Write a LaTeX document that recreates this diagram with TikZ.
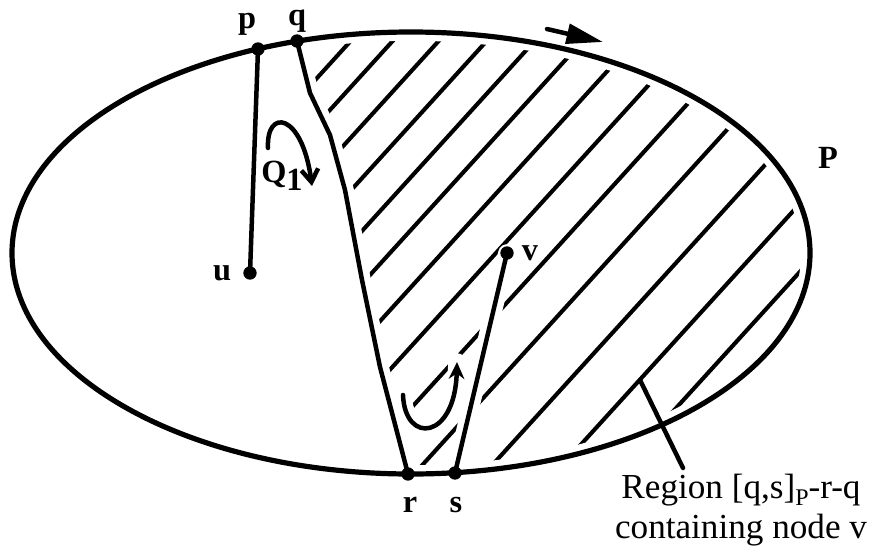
\documentclass[tikz,border=0pt]{standalone}
\usepackage{fontspec}
\setmainfont{Liberation Serif}
\usetikzlibrary{arrows.meta}

\begin{document}
\begin{tikzpicture}[x=0.025cm,y=-0.025cm,
  line cap=round,line join=round,
  pth/.style={line width=3.2pt},
  rim/.style={line width=3.7pt},
  hatch/.style={line width=2.9pt},
  gap/.style={white,line width=12.5pt},
  dot/.style={circle,fill=black,inner sep=0pt,minimum size=9.5pt},
  lbl/.style={font=\fontsize{23}{26}\selectfont\bfseries},
  txt/.style={font=\fontsize{25}{28}\selectfont,align=center}]
  \useasboundingbox (0,0) rectangle (879,552);
  % points on P and inside
  \coordinate (c) at (411,253);
  \coordinate (p) at (258,49);
  \coordinate (q) at (297,41);
  \coordinate (r) at (408,474);
  \coordinate (s) at (455,473);
  \coordinate (u) at (250,273);
  \coordinate (v) at (507,253);
  % bends of the path from q to r
  \coordinate (k1) at (310,93);
  \coordinate (k2) at (330,135);
  \coordinate (k3) at (345,190);
  \coordinate (k4) at (362,280);
  \coordinate (k5) at (380,367);
  % hatched region [q,s]_P-r-q
  \begin{scope}
    \clip (c) ellipse [x radius=399,y radius=221];
    \clip (q) -- (k1) -- (k2) -- (k3) -- (k4) -- (k5) -- (r) -- (408,560) -- (900,560) -- (900,0) -- (297,0) -- cycle;
    \foreach \h in {388,430,476,524,572,620,672,726,782,845,915,985,1047}
      \draw[hatch] ({\h+9},-10) -- ({\h-509},560);
  \end{scope}
  % turning arrows
  \coordinate (a1) at (268,148);
  \coordinate (a2) at (312,186);
  \coordinate (b1) at (403,395);
  \coordinate (b2) at (457,362);
  % white gaps where the hatching stops
  \draw[gap] (c) ellipse [x radius=399,y radius=221];
  \draw[gap] (q) -- (k1) -- (k2) -- (k3) -- (k4) -- (k5) -- (r);
  \draw[gap] (v) -- (s);
  \draw[gap] (b1) .. controls (405,445) and (455,440) .. (b2);
  \draw[rim] (c) ellipse [x radius=399,y radius=221];
  \draw[pth] (p) -- (u);
  \draw[pth] (q) -- (k1) -- (k2) -- (k3) -- (k4) -- (k5) -- (r);
  \draw[pth] (v) -- (s);
  \draw[pth,-{Straight Barb[length=9pt,width=12pt]}] (a1) .. controls (266,108) and (302,112) .. (a2);
  \draw[pth,-{Stealth[length=12pt,width=11pt]}] (b1) .. controls (405,445) and (455,440) .. (b2);
  % direction of P
  \coordinate (d1) at (547,29);
  \coordinate (d2) at (603,42);
  \draw[pth,-{Triangle[length=26pt,width=14pt]}] (d1) -- (d2);
  % dots
  \foreach \n in {p,q,r,s,u,v}
    \node[dot] (d\n) at (\n) {};
  % labels
  \node[lbl] (lp) at (247,24) {p};
  \node[lbl] (lq) at (297,21) {q};
  \node[lbl] (lr) at (410,505) {r};
  \node[lbl] (ls) at (456,505) {s};
  \node[lbl] (lu) at (222,273) {u};
  \node[lbl] (lv) at (530,253) {v};
  \node[lbl] (lP) at (828,158) {P};
  \node[lbl,anchor=west,inner sep=0pt] (lQ) at (261,176) {Q\raisebox{-6pt}{1}};
  % which region is meant
  \node[txt] (reg) at (741,510) {Region [q,s]\raisebox{-5pt}{\fontsize{17}{17}\selectfont P}-r-q\\containing node v};
  \coordinate (t1) at (640,380);
  \coordinate (t2) at (683,468);
  \draw[pth] (t1) -- (t2);
\end{tikzpicture}
\end{document}
